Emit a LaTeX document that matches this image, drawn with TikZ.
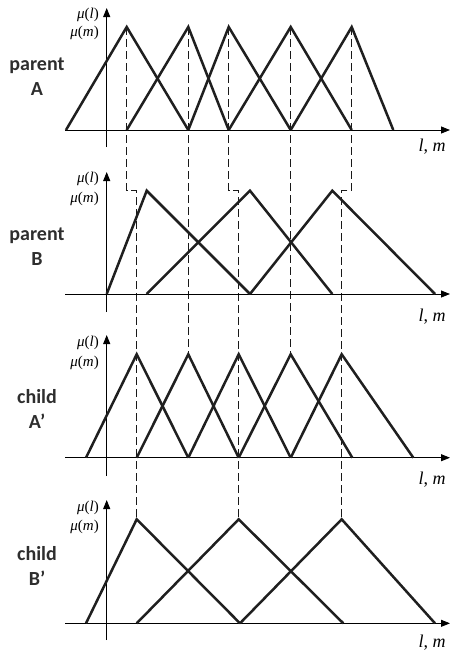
\documentclass[tikz,border=0pt]{standalone}
\usepackage{fontspec}
\setmainfont{Liberation Serif}
\newfontfamily\labfont{Carlito}
\usetikzlibrary{arrows.meta}
\begin{document}
\begin{tikzpicture}[x=1pt,y=-1pt,
 mf/.style={line width=2.5pt, line join=miter, color=black!88},
 ax/.style={line width=0.8pt,-{Triangle[length=9pt,width=7pt]}},
 guide/.style={line width=1.4pt,dash pattern=on 8pt off 4pt,color=black!90},
 mu/.style={anchor=east,font=\fontsize{15}{16}\selectfont,inner sep=0pt},
 side/.style={font=\labfont\bfseries\fontsize{20}{25}\selectfont,align=center,inner sep=0pt,text=black!82},
 lm/.style={font=\fontsize{18}{20}\selectfont,inner sep=0pt}]
\useasboundingbox (0,0) rectangle (451,651);
% ---- peak coordinates
\coordinate (a1) at (126.7,27); \coordinate (a2) at (188.3,27); \coordinate (a3) at (228.7,27);
\coordinate (a4) at (290.7,27); \coordinate (a5) at (351.7,27);
\coordinate (b1) at (146.7,190.7); \coordinate (b2) at (250,190.7); \coordinate (b3) at (332.3,190.7);
\coordinate (c1) at (136.7,354.3); \coordinate (c2) at (188.3,354.3); \coordinate (c3) at (238.7,354.3);
\coordinate (c4) at (290.7,354.3); \coordinate (c5) at (341.7,354.3);
\coordinate (d1) at (136.7,519.3); \coordinate (d2) at (238.7,519.3); \coordinate (d3) at (341.7,519.3);
% ---- guides
\draw[guide] (a1) -- (a1 |- b1) -- (d1 |- b1) -- (d1);
\draw[guide] (a2) -- (c2);
\draw[guide] (a3) -- (a3 |- b1) -- (d2 |- b1) -- (d2);
\draw[guide] (a4) -- (c4);
\draw[guide] (a5) -- (a5 |- b1) -- (d3 |- b1) -- (d3);
% ---- panel A
\draw[ax] (106.7,147) -- (106.7,8);
\draw[ax] (65,130) -- (450,130);
\draw[mf] (66,130) -- (a1) -- (188.3,130);
\draw[mf] (126.7,130) -- (a2) -- (228.7,130);
\draw[mf] (188.3,130) -- (a3) -- (290.7,130);
\draw[mf] (228.7,130) -- (a4) -- (351.7,130);
\draw[mf] (290.7,130) -- (a5) -- (393.3,130);
\node[mu] (muA1) at (99,15) {\textit{μ}(\textit{l})};
\node[mu] (muA2) at (99,33) {\textit{μ}(\textit{m})};
\node[side] (labA) at (37,77) {parent\\A};
\node[lm] (lmA) at (432,147) {\textit{l}, \textit{m}};
% ---- panel B
\draw[ax] (106.7,312) -- (106.7,172);
\draw[ax] (65,294) -- (450,294);
\draw[mf] (106.7,294) -- (b1) -- (250,294);
\draw[mf] (146.7,294) -- (b2) -- (332.3,294);
\draw[mf] (250,294) -- (b3) -- (435,294);
\node[mu] (muB1) at (99,179.3) {\textit{μ}(\textit{l})};
\node[mu] (muB2) at (99,199.3) {\textit{μ}(\textit{m})};
\node[side] (labB) at (37,247) {parent\\B};
\node[lm] (lmB) at (432,316.7) {\textit{l}, \textit{m}};
% ---- panel A'
\draw[ax] (106.7,476) -- (106.7,335);
\draw[ax] (65,457.7) -- (450,457.7);
\draw[mf] (86,457.7) -- (c1) -- (188.3,457.7);
\draw[mf] (136.7,457.7) -- (c2) -- (238.7,457.7);
\draw[mf] (188.3,457.7) -- (c3) -- (290.7,457.7);
\draw[mf] (238.7,457.7) -- (c4) -- (352.3,457.7);
\draw[mf] (290.7,457.7) -- (c5) -- (413.3,457.7);
\node[mu] (muC1) at (99,343.3) {\textit{μ}(\textit{l})};
\node[mu] (muC2) at (99,363.3) {\textit{μ}(\textit{m})};
\node[side] (labC) at (37,409) {child\\A’};
\node[lm] (lmC) at (432,479.3) {\textit{l}, \textit{m}};
% ---- panel B'
\draw[ax] (106.7,640) -- (106.7,500);
\draw[ax] (65,623.3) -- (450,623.3);
\draw[mf] (86,623.3) -- (d1) -- (240,623.3);
\draw[mf] (136.7,623.3) -- (d2) -- (343.3,623.3);
\draw[mf] (240,623.3) -- (d3) -- (435,623.3);
\node[mu] (muD1) at (99,507.7) {\textit{μ}(\textit{l})};
\node[mu] (muD2) at (99,526.7) {\textit{μ}(\textit{m})};
\node[side] (labD) at (37,566) {child\\B’};
\node[lm] (lmD) at (432,642.7) {\textit{l}, \textit{m}};
\end{tikzpicture}
\end{document}
